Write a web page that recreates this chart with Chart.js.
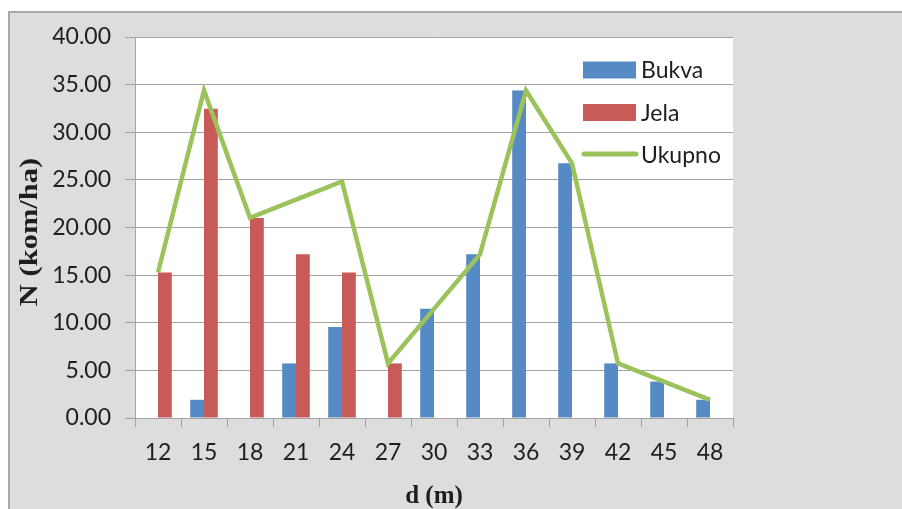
<!DOCTYPE html>
<html>
<head>
<meta charset="utf-8">
<script src="https://cdn.jsdelivr.net/npm/chart.js@4/dist/chart.umd.min.js"></script>
<style>
  html, body { margin: 0; padding: 0; background: #ffffff; }
  #wrap { position: relative; width: 902px; height: 509px; }
</style>
</head>
<body>
<div id="wrap"><canvas id="c"></canvas></div>
<script>
// Prečnik (d, m) – klase
const categories = ['12', '15', '18', '21', '24', '27', '30', '33', '36', '39', '42', '45', '48'];
// Broj stabala po hektaru
const bukva  = [0, 1.91, 0, 5.73, 9.55, 0, 11.46, 17.19, 34.38, 26.74, 5.73, 3.82, 1.91];
const jela   = [15.28, 32.47, 21.01, 17.19, 15.28, 5.73, 0, 0, 0, 0, 0, 0, 0];
const ukupno = [15.28, 34.38, 21.01, 22.92, 24.83, 5.73, 11.46, 17.19, 34.38, 26.74, 5.73, 3.82, 1.91];
const yTicks = [0, 5, 10, 15, 20, 25, 30, 35, 40];

const seriesNames = ['Bukva', 'Jela', 'Ukupno'];
const COL_BLUE = '#558ac5';
const COL_RED = '#c85b58';
const COL_GREEN = '#9bc25b';
const GRID = '#a3a3a3';
const TEXT = '#1e1e1e';
const UI_FONT = 'Lato, "Open Sans", sans-serif';
const TITLE_FONT = '"Liberation Serif", "DejaVu Serif", serif';

// frame, plot background, legend and axis titles
const decor = {
  id: 'decor',
  beforeDraw(chart) {
    const { ctx, chartArea: a } = chart;
    ctx.save();
    ctx.fillStyle = '#ffffff';
    ctx.fillRect(0, 0, chart.width, chart.height);
    ctx.fillStyle = '#dddddd';
    ctx.fillRect(8, 11, chart.width - 8, chart.height - 11);
    ctx.strokeStyle = '#a8a8a8';
    ctx.lineWidth = 2;
    ctx.beginPath();
    ctx.moveTo(9, chart.height);
    ctx.lineTo(9, 12);
    ctx.lineTo(chart.width, 12);
    ctx.stroke();
    ctx.fillStyle = '#ffffff';
    ctx.fillRect(a.left, a.top, a.right - a.left, a.bottom - a.top);
    ctx.restore();
  },
  afterDraw(chart) {
    const { ctx, chartArea: a } = chart;
    ctx.save();
    // legend
    const ds = chart.data.datasets;
    const lx = 583, ly0 = 70, step = 42.5, bw = 53, bh = 17;
    ctx.font = '23px ' + UI_FONT;
    ctx.textBaseline = 'middle';
    ctx.textAlign = 'left';
    ds.forEach((d, i) => {
      const cy = ly0 + i * step;
      if (d.type === 'line') {
        ctx.strokeStyle = d.borderColor;
        ctx.lineWidth = 5;
        ctx.lineCap = 'round';
        ctx.beginPath();
        ctx.moveTo(lx + 1, cy - 1);
        ctx.lineTo(lx + bw, cy - 1);
        ctx.stroke();
      } else {
        ctx.fillStyle = d.backgroundColor;
        ctx.fillRect(lx, cy - bh / 2, bw, bh);
      }
      ctx.fillStyle = TEXT;
      ctx.fillText(d.label, lx + bw + 5, cy + 1);
    });
    // axis titles
    ctx.fillStyle = TEXT;
    ctx.font = 'bold 25px ' + TITLE_FONT;
    ctx.textAlign = 'center';
    ctx.textBaseline = 'alphabetic';
    ctx.fillText('d (m)', (a.left + a.right) / 2, 503);
    ctx.translate(37, 232);
    ctx.rotate(-Math.PI / 2);
    ctx.scale(1.22, 1);
    ctx.fillText('N (kom/ha)', 0, 0);
    ctx.restore();
  }
};

new Chart(document.getElementById('c'), {
  type: 'bar',
  data: {
    labels: categories,
    datasets: [
      { label: seriesNames[0], data: bukva, backgroundColor: COL_BLUE, order: 1,
        barPercentage: 1, categoryPercentage: 0.6 },
      { label: seriesNames[1], data: jela, backgroundColor: COL_RED, order: 1,
        barPercentage: 1, categoryPercentage: 0.6 },
      { label: seriesNames[2], data: ukupno, type: 'line', borderColor: COL_GREEN,
        backgroundColor: COL_GREEN, borderWidth: 4.5, pointRadius: 0, tension: 0,
        fill: false, order: 0, borderJoinStyle: 'miter' }
    ]
  },
  options: {
    responsive: true,
    maintainAspectRatio: false,
    animation: false,
    layout: { padding: { top: 37, right: 169, left: 0, bottom: 0 } },
    plugins: { legend: { display: false }, tooltip: { enabled: false } },
    scales: {
      x: {
        offset: true,
        grid: { offset: true, drawOnChartArea: false, drawTicks: true, tickLength: 9, color: GRID },
        border: { color: GRID, width: 1 },
        ticks: { color: TEXT, font: { family: UI_FONT, size: 23 }, padding: 12, maxRotation: 0 },
        afterFit(s) { s.height = 91; }
      },
      y: {
        min: 0, max: 40,
        afterBuildTicks(s) { s.ticks = yTicks.map(v => ({ value: v })); },
        grid: { color: GRID, drawTicks: true, tickLength: 10 },
        border: { color: GRID, width: 1 },
        ticks: { color: TEXT, font: { family: UI_FONT, size: 23 }, padding: 14,
                 callback: v => Number(v).toFixed(2) },
        afterFit(s) { s.width = 135; }
      }
    }
  },
  plugins: [decor]
});
</script>
</body>
</html>
